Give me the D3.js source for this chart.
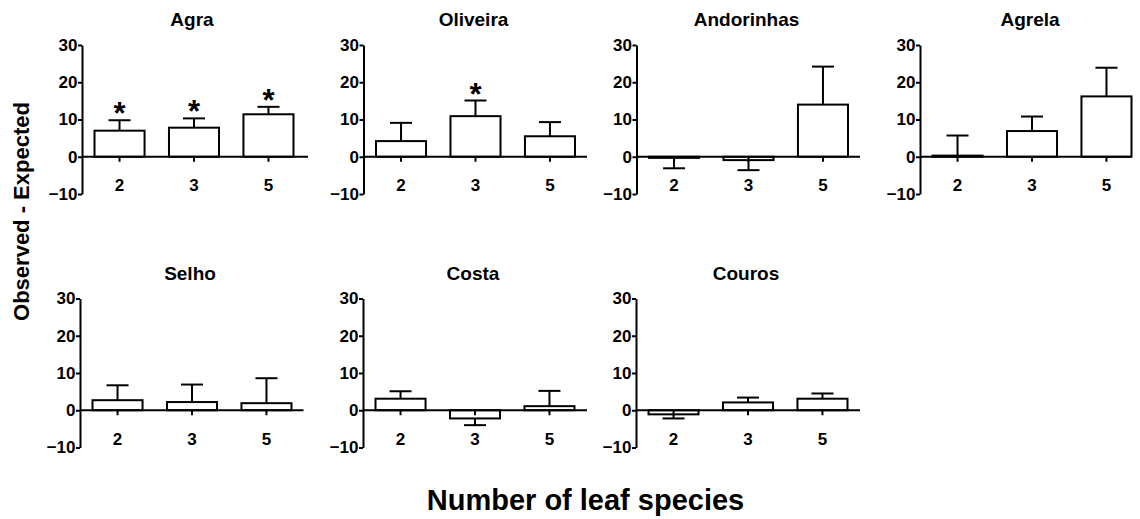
<!DOCTYPE html>
<html>
<head>
<meta charset="utf-8">
<script src="https://cdn.jsdelivr.net/npm/d3@7"></script>
<style>
  html, body { margin: 0; padding: 0; background: #fff; }
  text { font-family: "Liberation Sans", Arial, sans-serif; font-weight: bold; fill: #000; }
</style>
</head>
<body>
<svg id="chart" width="1140" height="519"></svg>
<script>
// ---- data ----
const sites = ["Agra", "Oliveira", "Andorinhas", "Agrela", "Selho", "Costa", "Couros"];
const categories = ["2", "3", "5"];
const yTicks = [-10, 0, 10, 20, 30];
const means = [
  [7.0, 7.8, 11.4],
  [4.2, 10.9, 5.5],
  [-0.3, -0.9, 14.0],
  [0.3, 6.9, 16.2],
  [2.7, 2.2, 1.9],
  [3.1, -2.2, 1.1],
  [-1.1, 2.1, 3.1]
];
const errors = [
  [2.8, 2.5, 2.0],
  [4.9, 4.2, 3.8],
  [2.8, 2.7, 10.2],
  [5.4, 3.9, 7.7],
  [4.0, 4.7, 6.7],
  [2.0, 1.8, 4.1],
  [1.1, 1.3, 1.4]
];
const significant = [
  [true, true, true],
  [false, true, false],
  [false, false, false],
  [false, false, false],
  [false, false, false],
  [false, false, false],
  [false, false, false]
];
const yLabel = "Observed - Expected";
const xLabel = "Number of leaf species";

// ---- layout ----
const layout = [
  {x0: 82,    end: 308,  top: 45,    bottom: 194},
  {x0: 363.5, end: 587,  top: 45,    bottom: 194},
  {x0: 636.5, end: 860,  top: 45,    bottom: 194},
  {x0: 920,   end: 1131, top: 45,    bottom: 194},
  {x0: 80,    end: 303.5, top: 298.5, bottom: 447.5},
  {x0: 363,   end: 587,  top: 298.5, bottom: 447.5},
  {x0: 636,   end: 860,  top: 298.5, bottom: 447.5}
];
const SW = 2;

const svg = d3.select("#chart");

sites.forEach((site, i) => {
  const L = layout[i];
  const g = svg.append("g");
  const x = d3.scaleBand().domain(categories).range([L.x0, L.x0 + 224])
    .paddingInner(0.328).paddingOuter(0.168);
  const y = d3.scaleLinear().domain([-10, 30]).range([L.bottom, L.top]);

  // y axis
  const ya = g.append("g").attr("transform", `translate(${L.x0},0)`)
    .call(d3.axisLeft(y).tickValues(yTicks).tickSize(4).tickSizeOuter(0).tickPadding(0.5));
  ya.select(".domain").attr("stroke", "#000").attr("stroke-width", SW);
  ya.selectAll(".tick line").attr("stroke", "#000").attr("stroke-width", SW);
  ya.selectAll(".tick text").style("font-size", "17px");

  // bars
  const rows = categories.map((c, j) => ({c, v: means[i][j], e: errors[i][j], s: significant[i][j]}));
  g.selectAll("rect.bar").data(rows).enter().append("rect")
    .attr("class", "bar")
    .attr("x", d => x(d.c))
    .attr("width", x.bandwidth())
    .attr("y", d => y(Math.max(0, d.v)))
    .attr("height", d => Math.abs(y(d.v) - y(0)))
    .attr("fill", "#fff").attr("stroke", "#000").attr("stroke-width", SW);

  // error bars (one-sided)
  const cap = 11;
  rows.forEach(d => {
    const cx = x(d.c) + x.bandwidth() / 2;
    const sign = d.v >= 0 ? 1 : -1;
    const endV = d.v + sign * d.e;
    g.append("line").attr("x1", cx).attr("x2", cx).attr("y1", y(d.v)).attr("y2", y(endV))
      .attr("stroke", "#000").attr("stroke-width", SW);
    g.append("line").attr("x1", cx - cap).attr("x2", cx + cap).attr("y1", y(endV)).attr("y2", y(endV))
      .attr("stroke", "#000").attr("stroke-width", SW);
    if (d.s) {
      g.append("text").attr("text-anchor", "middle")
        .attr("x", cx).attr("y", y(endV) + 4)
        .style("font-size", "31px").text("*");
    }
  });

  // x axis at zero
  const xa = g.append("g").attr("transform", `translate(0,${y(0)})`)
    .call(d3.axisBottom(x).tickSize(5).tickSizeOuter(0).tickPadding(17.5));
  xa.select(".domain").remove();
  xa.append("line").attr("x1", L.x0).attr("x2", L.end).attr("y1", 0).attr("y2", 0)
    .attr("stroke", "#000").attr("stroke-width", SW);
  xa.selectAll(".tick line").attr("stroke", "#000").attr("stroke-width", SW);
  xa.selectAll(".tick text").style("font-size", "17px");

  // title
  g.append("text").attr("text-anchor", "middle")
    .attr("x", L.x0 + 110).attr("y", L.top - 19)
    .style("font-size", "19px").text(site);
});

// axis titles
svg.append("text").attr("text-anchor", "middle")
  .attr("transform", "translate(29,211.5) rotate(-90)")
  .style("font-size", "22px").text(yLabel);
svg.append("text").attr("text-anchor", "middle")
  .attr("x", 585.5).attr("y", 510)
  .style("font-size", "29px").text(xLabel);
</script>
</body>
</html>
